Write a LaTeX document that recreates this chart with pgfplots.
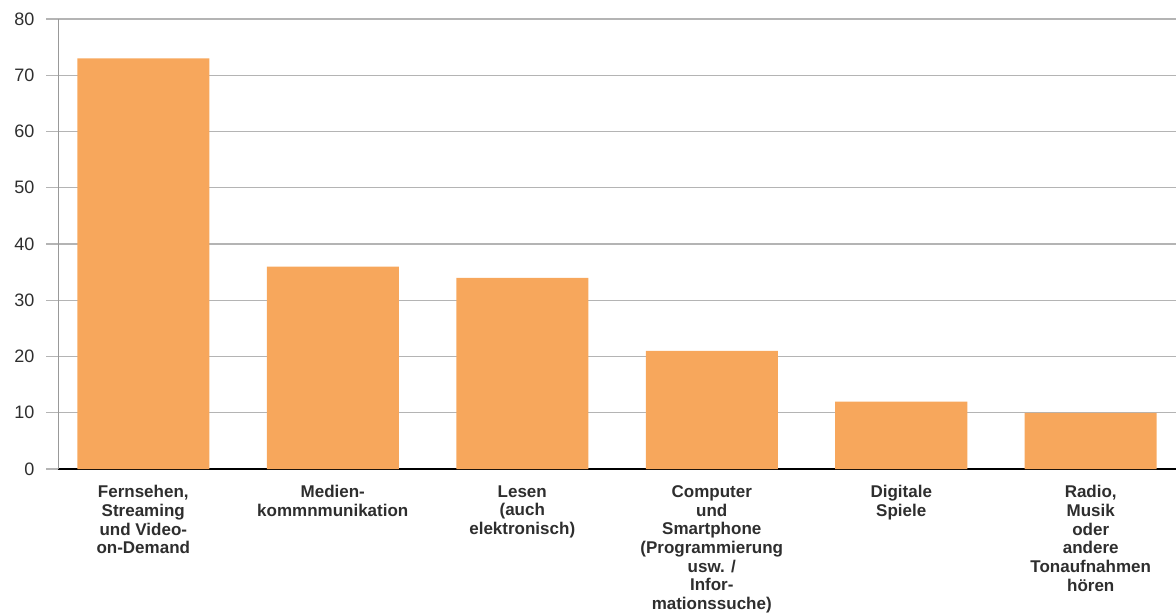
\documentclass[border=0pt]{standalone}
\usepackage{pgfplots}
\pgfplotsset{compat=1.18}
\usepackage{fontspec}
\setmainfont{Liberation Sans}

\definecolor{barorange}{HTML}{F7A75C}
\definecolor{gridgray}{HTML}{B4B4B4}
\definecolor{axisgray}{HTML}{999999}
\definecolor{txtgray}{HTML}{2E2E2E}

\begin{document}
\begin{tikzpicture}
	\begin{axis}[
	name=ax,
	scale only axis,
	width=1118pt, height=450pt,
	xmin=-0.45, xmax=5.45,
	ymin=0, ymax=80,
	ytick={0,10,...,80},
	xtick=data,
	xticklabels={
		{Fernsehen,\\Streaming\\und Video-\\on-Demand},
		{Medien-\\kommnmunikation},
		{Lesen\\(auch\\elektronisch)},
		{Computer\\und\\Smartphone\\(Programmierung\\usw. /\\Infor-\\mationssuche)},
		{Digitale\\Spiele},
		{Radio,\\Musik\\oder\\andere\\Tonaufnahmen\\hören}
	},
	axis x line=bottom,
	axis y line=left,
	x axis line style={black, line width=2pt, -},
	y axis line style={axisgray, line width=1pt, -},
	ymajorgrids=true,
	grid style={gridgray, line width=1.2pt},
	xtick style={draw=none},
	ytick style={gridgray, line width=1.2pt},
	major tick length=12pt,
	tick align=outside,
	/pgf/number format/assume math mode=true,
	yticklabel style={font=\fontsize{18}{20}\selectfont, text=txtgray, xshift=-8pt},
	xticklabel style={font=\fontsize{17}{18.7}\selectfont\bfseries, text=txtgray, align=center, anchor=north, yshift=-1pt},
	]
	\addplot[ybar, bar width=132pt, fill=barorange, draw=none] coordinates {
		(0,73)
		(1,36)
		(2,34)
		(3,21)
		(4,12)
		(5,10)
	};
	\end{axis}
	\pgfresetboundingbox
	\path[use as bounding box] ([xshift=-58pt,yshift=-143pt]ax.south west) rectangle ([yshift=19pt]ax.north east);
\end{tikzpicture}
\end{document}
